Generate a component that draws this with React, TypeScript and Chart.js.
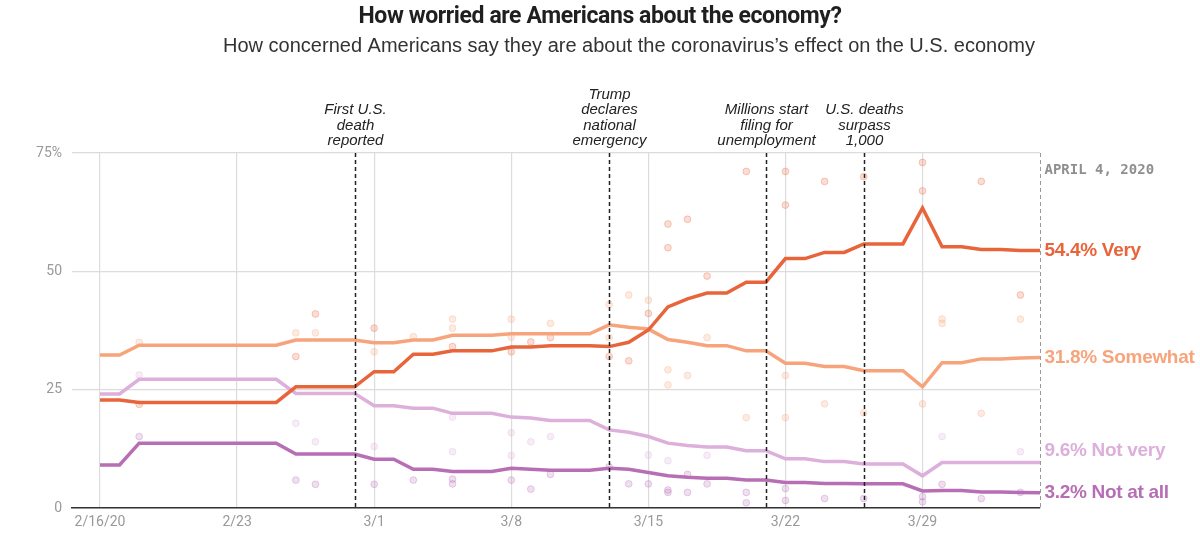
import React, { useEffect, useRef } from "react";
import { Chart, registerables } from "chart.js";

Chart.register(...registerables);

// one entry per day, 2/16/20 through 4/4/20
const dates = [
  "2/16", "2/17", "2/18", "2/19", "2/20", "2/21", "2/22", "2/23", "2/24", "2/25", "2/26", "2/27", "2/28", "2/29",
  "3/1", "3/2", "3/3", "3/4", "3/5", "3/6", "3/7", "3/8", "3/9", "3/10", "3/11", "3/12", "3/13", "3/14", "3/15",
  "3/16", "3/17", "3/18", "3/19", "3/20", "3/21", "3/22", "3/23", "3/24", "3/25", "3/26", "3/27", "3/28", "3/29",
  "3/30", "3/31", "4/1", "4/2", "4/3", "4/4",
];

const tickDates = ["2/16", "2/23", "3/1", "3/8", "3/15", "3/22", "3/29"];
const tickLabels = ["2/16/20", "2/23", "3/1", "3/8", "3/15", "3/22", "3/29"];
const yTicks = [0, 25, 50, 75];

const seriesNames = ["Very", "Somewhat", "Not very", "Not at all"];
const seriesColors = ["#e8643a", "#f7a47c", "#ddafdb", "#b76eb5"];

// averages
const very = [
  22.8, 22.8, 22.3, 22.3, 22.3, 22.3, 22.3, 22.3, 22.3, 22.3, 25.6, 25.6, 25.6, 25.6,
  28.8, 28.8, 32.5, 32.5, 33.2, 33.2, 33.2, 34.0, 34.0, 34.3, 34.3, 34.3, 34.1, 35.0, 37.6,
  42.5, 44.2, 45.4, 45.4, 47.7, 47.7, 52.7, 52.7, 54.0, 54.0, 55.8, 55.8, 55.8, 63.4,
  55.2, 55.2, 54.6, 54.6, 54.4, 54.4,
];
const somewhat = [
  32.3, 32.3, 34.4, 34.4, 34.4, 34.4, 34.4, 34.4, 34.4, 34.4, 35.5, 35.5, 35.5, 35.5,
  34.9, 34.9, 35.5, 35.5, 36.5, 36.5, 36.5, 36.8, 36.8, 36.8, 36.8, 36.8, 38.7, 38.2, 37.8,
  35.6, 35.0, 34.3, 34.3, 33.2, 33.2, 30.6, 30.6, 29.9, 29.9, 29.0, 29.0, 29.0, 25.6,
  30.7, 30.7, 31.5, 31.5, 31.7, 31.8,
];
const notVery = [
  24.1, 24.1, 27.2, 27.2, 27.2, 27.2, 27.2, 27.2, 27.2, 27.2, 24.2, 24.2, 24.2, 24.2,
  21.6, 21.6, 21.1, 21.1, 20.0, 20.0, 20.0, 19.2, 19.0, 18.5, 18.5, 18.5, 16.5, 16.0, 15.1,
  13.7, 13.2, 12.9, 12.9, 12.1, 12.1, 10.4, 10.4, 9.8, 9.8, 9.3, 9.3, 9.3, 6.8,
  9.6, 9.6, 9.6, 9.6, 9.6, 9.6,
];
const notAtAll = [
  9.1, 9.1, 13.7, 13.7, 13.7, 13.7, 13.7, 13.7, 13.7, 13.7, 11.4, 11.4, 11.4, 11.4,
  10.3, 10.3, 8.2, 8.2, 7.7, 7.7, 7.7, 8.4, 8.2, 8.0, 8.0, 8.0, 8.4, 8.2, 7.5,
  6.8, 6.5, 6.3, 6.3, 5.9, 5.9, 5.4, 5.4, 5.2, 5.2, 5.1, 5.1, 5.1, 3.6,
  3.7, 3.7, 3.4, 3.4, 3.3, 3.2,
];

// individual polls: [date, value]
const veryPolls: [string, number][] = [
  ["2/18", 21.9], ["2/26", 32.0], ["2/27", 41.0], ["3/1", 38.0], ["3/5", 34.1], ["3/8", 33.0],
  ["3/9", 35.1], ["3/10", 36.0], ["3/13", 32.0], ["3/14", 31.1], ["3/15", 41.1], ["3/16", 60.0],
  ["3/16", 55.0], ["3/17", 61.0], ["3/18", 49.0], ["3/20", 71.1], ["3/22", 71.1], ["3/22", 64.0],
  ["3/24", 69.0], ["3/26", 70.0], ["3/29", 73.0], ["3/29", 67.0], ["4/1", 69.0], ["4/3", 45.0],
];
const somewhatPolls: [string, number][] = [
  ["2/18", 35.0], ["2/26", 37.0], ["2/27", 37.0], ["3/1", 33.0], ["3/3", 36.2], ["3/5", 39.9],
  ["3/5", 38.0], ["3/8", 39.9], ["3/8", 36.1], ["3/10", 39.0], ["3/13", 43.0], ["3/13", 36.0],
  ["3/14", 45.0], ["3/15", 43.9], ["3/16", 29.2], ["3/16", 26.0], ["3/17", 28.0], ["3/18", 36.0],
  ["3/20", 19.1], ["3/22", 28.0], ["3/22", 19.1], ["3/24", 22.0], ["3/26", 20.1], ["3/29", 22.0],
  ["3/30", 39.9], ["3/30", 39.0], ["4/1", 20.0], ["4/3", 39.9],
];
const notVeryPolls: [string, number][] = [
  ["2/18", 28.1], ["2/26", 17.9], ["2/27", 14.0], ["3/1", 13.0], ["3/5", 19.2], ["3/5", 11.9],
  ["3/8", 15.9], ["3/8", 11.1], ["3/9", 14.0], ["3/10", 15.1], ["3/15", 11.2], ["3/16", 10.0],
  ["3/18", 11.1], ["3/30", 15.1], ["4/3", 11.9],
];
const notAtAllPolls: [string, number][] = [
  ["2/18", 15.1], ["2/26", 5.9], ["2/27", 5.0], ["3/1", 5.0], ["3/3", 5.9], ["3/5", 6.1],
  ["3/5", 5.1], ["3/8", 5.9], ["3/9", 4.0], ["3/10", 7.1], ["3/13", 8.7], ["3/14", 5.1],
  ["3/15", 5.1], ["3/16", 3.8], ["3/16", 3.3], ["3/17", 7.1], ["3/17", 3.3], ["3/18", 5.1],
  ["3/20", 3.3], ["3/20", 1.1], ["3/22", 4.1], ["3/22", 1.6], ["3/24", 2.0], ["3/26", 2.0],
  ["3/29", 2.4], ["3/29", 1.3], ["3/30", 5.0], ["4/1", 2.0], ["4/3", 3.3],
];

const eventDates = ["2/29", "3/13", "3/21", "3/26"];
const eventLabels = [
  ["First U.S.", "death", "reported"],
  ["Trump", "declares", "national", "emergency"],
  ["Millions start", "filing for", "unemployment"],
  ["U.S. deaths", "surpass", "1,000"],
];

const titleText = "How worried are Americans about the economy?";
const subtitleText = "How concerned Americans say they are about the coronavirus\u2019s effect on the U.S. economy";
const asOfText = "APRIL 4, 2020";

const dayOf = (d: string) => dates.indexOf(d);
const faint = (hex: string, a: number) => {
  const n = parseInt(hex.slice(1), 16);
  return `rgba(${(n >> 16) & 255},${(n >> 8) & 255},${n & 255},${a})`;
};

const overlay = {
  id: "overlay",
  afterDraw(chart: any) {
    const { ctx, chartArea, scales } = chart;
    const xs = scales.x;
    const ys = scales.y;
    ctx.save();

    // title + subtitle
    ctx.fillStyle = "#1f1f1f";
    ctx.textAlign = "center";
    ctx.textBaseline = "middle";
    ctx.font = "bold 23px Roboto, sans-serif";
    ctx.letterSpacing = "-0.4px";
    ctx.fillText(titleText, 600, 17);
    ctx.letterSpacing = "0px";
    ctx.fillStyle = "#333";
    ctx.font = "20px 'Liberation Sans', Arial, sans-serif";
    ctx.fillText(subtitleText, 629, 46);

    // event markers
    ctx.strokeStyle = "#222";
    ctx.lineWidth = 1.5;
    ctx.setLineDash([4, 3]);
    eventDates.forEach((d, i) => {
      const x = Math.round(xs.getPixelForValue(dayOf(d))) + 0.5;
      ctx.beginPath();
      ctx.moveTo(x, chartArea.top);
      ctx.lineTo(x, chartArea.bottom);
      ctx.stroke();
      const lines = eventLabels[i];
      ctx.fillStyle = "#222";
      ctx.font = "italic 15px 'Liberation Sans', Arial, sans-serif";
      ctx.textAlign = "center";
      ctx.textBaseline = "middle";
      lines.forEach((t, j) => {
        ctx.fillText(t, x, chartArea.top - 12 - (lines.length - 1 - j) * 15.4);
      });
    });

    // as-of line
    const xe = Math.round(xs.getPixelForValue(dates.length - 1)) + 0.5;
    ctx.strokeStyle = "#9a9a9a";
    ctx.lineWidth = 1;
    ctx.beginPath();
    ctx.moveTo(xe, chartArea.top);
    ctx.lineTo(xe, chartArea.bottom);
    ctx.stroke();
    ctx.setLineDash([]);
    ctx.fillStyle = "#8f8f8f";
    ctx.font = "bold 14px 'DejaVu Sans Mono', monospace";
    ctx.textAlign = "left";
    ctx.fillText(asOfText, xe + 4, chartArea.top + 17);

    // end labels, pushed apart from the bottom up
    const series = [very, somewhat, notVery, notAtAll];
    const ypos = series.map((s) => ys.getPixelForValue(s[s.length - 1]));
    for (let i = ypos.length - 2; i >= 0; i--) {
      ypos[i] = Math.min(ypos[i], ypos[i + 1] - 42);
    }
    ctx.font = "bold 19px 'Liberation Sans', Arial, sans-serif";
    ctx.letterSpacing = "-0.3px";
    ctx.textBaseline = "middle";
    series.forEach((s, i) => {
      ctx.fillStyle = seriesColors[i];
      ctx.fillText(`${s[s.length - 1].toFixed(1)}% ${seriesNames[i]}`, xe + 4, ypos[i]);
    });
    ctx.restore();
  },
};

const App: React.FC = () => {
  const chartRef = useRef<HTMLCanvasElement | null>(null);

  useEffect(() => {
    if (!chartRef.current) return;
    const ctx = chartRef.current.getContext("2d");
    if (!ctx) return;

    const lineSet = (data: number[], i: number) => ({
      type: "line" as const,
      data: data.map((v, k) => ({ x: k, y: v })),
      borderColor: seriesColors[i],
      borderWidth: 3.5,
      pointRadius: 0,
      tension: 0,
      order: i,
    });
    const pollSet = (polls: [string, number][], i: number) => ({
      type: "scatter" as const,
      data: polls.map(([d, v]) => ({ x: dayOf(d), y: v })),
      backgroundColor: faint(seriesColors[i], 0.22),
      borderColor: faint(seriesColors[i], 0.3),
      borderWidth: 1,
      pointRadius: 3.4,
      order: 10 + i,
    });

    const chart = new Chart(ctx, {
      data: {
        datasets: [
          lineSet(very, 0),
          lineSet(somewhat, 1),
          lineSet(notVery, 2),
          lineSet(notAtAll, 3),
          pollSet(veryPolls, 0),
          pollSet(somewhatPolls, 1),
          pollSet(notVeryPolls, 2),
          pollSet(notAtAllPolls, 3),
        ],
      },
      options: {
        animation: false,
        responsive: false,
        layout: { padding: { top: 153, right: 160, bottom: 0, left: 0 } },
        plugins: { legend: { display: false }, tooltip: { enabled: false } },
        scales: {
          x: {
            type: "linear",
            min: -1.43,
            max: dates.length - 1,
            afterBuildTicks: (scale: any) => {
              scale.ticks = tickDates.map((d) => ({ value: dayOf(d) }));
            },
            afterFit: (scale: any) => {
              scale.height = 38;
            },
            ticks: {
              autoSkip: false,
              maxRotation: 0,
              padding: 6,
              color: "#999",
              font: { family: "Roboto", size: 14 },
              callback: (v: any) => tickLabels[tickDates.indexOf(dates[v])] ?? "",
            },
            grid: { color: "#dcdcdc", lineWidth: 1.2, drawTicks: false },
            border: { display: true, color: "#333", width: 1.5 },
          },
          y: {
            min: 0,
            max: 75,
            afterBuildTicks: (scale: any) => {
              scale.ticks = yTicks.map((v) => ({ value: v }));
            },
            afterFit: (scale: any) => {
              scale.width = 72;
            },
            ticks: {
              padding: 10,
              color: "#999",
              font: { family: "Roboto", size: 14 },
              callback: (v: any) => (v === 75 ? "75%" : String(v)),
            },
            grid: { color: "#dcdcdc", lineWidth: 1.2, drawTicks: false },
            border: { display: false },
          },
        },
      },
      plugins: [overlay],
    } as any);

    return () => {
      chart.destroy();
    };
  }, []);

  return (
    <div style={{ position: "absolute", left: 0, top: 0, width: 1200, height: 546, background: "#fff" }}>
      <canvas ref={chartRef} width={1200} height={546} style={{ width: 1200, height: 546 }}></canvas>
    </div>
  );
};

export default App;
